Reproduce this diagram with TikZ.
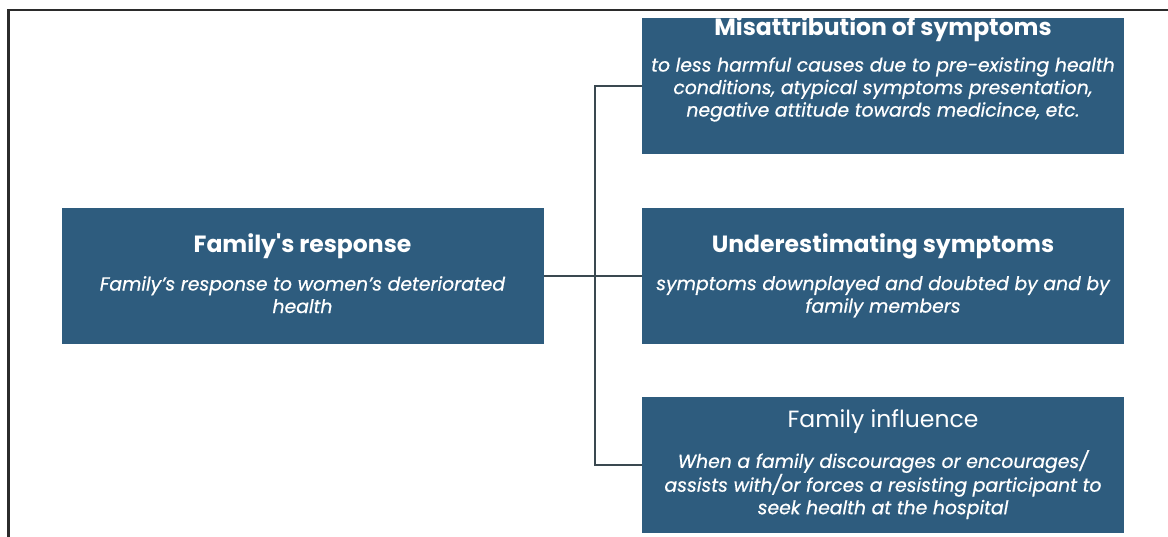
\documentclass[tikz,border=0pt]{standalone}
\usepackage{fontspec}
\setmainfont{Poppins}
\newfontfamily\bodyfont{Poppins}[ItalicFeatures={FakeBold=0.6}]
\begin{document}
\begin{tikzpicture}[x=1pt,y=-1pt,
  box/.style={draw=none, fill=boxblue, minimum width=482pt, minimum height=136pt, inner sep=0pt, outer sep=0pt},
  ttl/.style={text=white, font=\fontsize{23.5}{28}\selectfont\bfseries, inner sep=0pt},
  ttlreg/.style={text=white, font=\fontsize{23.5}{28}\selectfont, inner sep=0pt},
  body/.style={text=white, align=center, inner sep=0pt, font=\bodyfont\fontsize{18.8}{22.5}\selectfont\itshape},
  link/.style={draw=linkgrey, line width=2pt},
  frame/.style={draw=framegrey, line width=2.5pt}]
\definecolor{boxblue}{HTML}{2E5C7E}
\definecolor{linkgrey}{HTML}{3A4850}
\definecolor{framegrey}{HTML}{2B2B2B}
\useasboundingbox (0,0) rectangle (1168,537);
\fill[white] (0,0) rectangle (1168,537);

% outer frame (top and left edges only)
\draw[frame] (8.5,537) -- (8.5,10) -- (1168,10);

% boxes
\node[box] (root) at (302.5,276) {};
\node[box] (mis)  at (883,86.5) {};
\node[box] (und)  at (883,276) {};
\node[box] (inf)  at (883,465) {};

% texts
\node[ttl] (rootT) at (302.5,246) {Family\textquotesingle s response};
\node[body, anchor=north] (rootB) at (302.5,276) {Family’s response to women’s deteriorated\\health};

\node[ttl] (misT) at (883,29) {Misattribution of symptoms};
\node[body, anchor=north] (misB) at (883,57) {to less harmful causes due to pre-existing health\\conditions, atypical symptoms presentation,\\negative attitude towards medicince, etc.};

\node[ttl] (undT) at (883,246) {Underestimating symptoms};
\node[body, anchor=north] (undB) at (883,276) {symptoms downplayed and doubted by and by\\family members};

\node[ttlreg] (infT) at (883,422) {Family influence};
\node[body, anchor=north] (infB) at (883,450) {When a family discourages or encourages/\\assists with/or forces a resisting participant to\\seek health at the hospital};

% connectors
\coordinate (trunk) at (595,276);
\draw[link] (root.east) -- (und.west);
\draw[link] (mis.west) -| (trunk) |- (inf.west);
\end{tikzpicture}
\end{document}
